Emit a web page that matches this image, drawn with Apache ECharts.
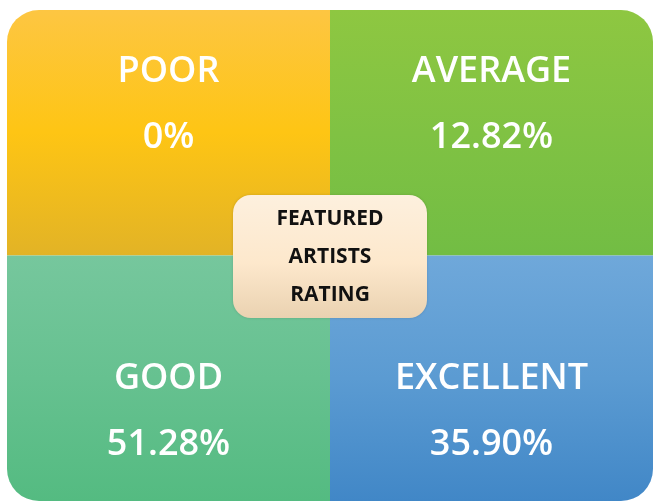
<!DOCTYPE html>
<html><head><meta charset="utf-8">
<script src="https://cdn.jsdelivr.net/npm/echarts@6/dist/echarts.min.js"></script>
<style>html,body{margin:0;padding:0;background:#fff}#c{width:654px;height:501px}</style>
</head><body><div id="c"></div>
<script>
var columns = ['left', 'right'];
var rows = ['top', 'bottom'];
var categories = ['POOR', 'AVERAGE', 'GOOD', 'EXCELLENT'];
var values = [0, 12.82, 51.28, 35.90];
var valueLabels = ['0%', '12.82%', '51.28%', '35.90%'];
var cellCol = [0, 1, 0, 1];
var cellRow = [0, 0, 1, 1];
var titleLines = ['FEATURED', 'ARTISTS', 'RATING'];

var gradients = [
  ['#fdc642', '#fec514', '#e2b326'],
  ['#8ec741', '#80c243', '#72bd44'],
  ['#76c79d', '#66c190', '#54bb81'],
  ['#6fa8da', '#5b9bd2', '#4187c7']
];
var corners = [[32,0,0,0],[0,32,0,0],[0,0,0,32],[0,0,32,0]];

var data = categories.map(function (c, i) {
  return [cellCol[i], cellRow[i], values[i], i];
});

var chart = echarts.init(document.getElementById('c'), null, {renderer: 'canvas'});
chart.setOption({
  animation: false,
  grid: {left: 7, right: 1, top: 10, height: 494},
  xAxis: {type: 'category', data: columns, show: false},
  yAxis: {type: 'category', data: rows, inverse: true, show: false},
  series: [{
    type: 'custom',
    data: data,
    renderItem: function (params, api) {
      var i = api.value(3);
      var c = api.coord([api.value(0), api.value(1)]);
      var s = api.size([1, 1]);
      var x = c[0] - s[0] / 2, y = c[1] - s[1] / 2;
      var g = gradients[i];
      var top = api.value(1) === 0;
      var ly = top ? y + 62 : y + 123;
      var vy = top ? y + 128 : y + 189;
      return {
        type: 'group',
        children: [{
          type: 'rect',
          shape: {x: x, y: y, width: s[0], height: s[1], r: corners[i]},
          style: {fill: {type: 'linear', x: 0, y: 0, x2: 0, y2: 1,
            colorStops: [{offset: 0, color: g[0]}, {offset: 0.5, color: g[1]}, {offset: 1, color: g[2]}]}}
        }, {
          type: 'text',
          style: {x: c[0], y: ly, text: categories[i], fill: '#fff', align: 'center', verticalAlign: 'middle',
            font: '600 36px "Open Sans"'}
        }, {
          type: 'text',
          style: {x: c[0], y: vy, text: valueLabels[i], fill: '#fff', align: 'center', verticalAlign: 'middle',
            font: '600 36px "Open Sans"'}
        }]
      };
    }
  }, {
    type: 'custom',
    data: [[0, 0]],
    z: 5,
    renderItem: function (params, api) {
      var a = api.coord([0, 0]);
      var b = api.coord([1, 1]);
      var cx = (a[0] + b[0]) / 2, cy = (a[1] + b[1]) / 2;
      var w = 194, h = 123;
      var children = [{
        type: 'rect',
        shape: {x: cx - w / 2, y: cy - h / 2 + 1, width: w, height: h, r: 18},
        style: {fill: {type: 'linear', x: 0, y: 0, x2: 0, y2: 1,
          colorStops: [{offset: 0, color: '#fdf0de'}, {offset: 0.55, color: '#fde8cc'}, {offset: 1, color: '#ead2b1'}]},
          shadowBlur: 3, shadowColor: 'rgba(0,0,0,0.15)'}
      }];
      titleLines.forEach(function (t, k) {
        children.push({
          type: 'text',
          style: {x: cx, y: cy - 36 + k * 38, text: t, fill: '#111', align: 'center', verticalAlign: 'middle',
            font: 'bold 21px "Open Sans"'}
        });
      });
      return {type: 'group', children: children};
    }
  }]
});
</script></body></html>
